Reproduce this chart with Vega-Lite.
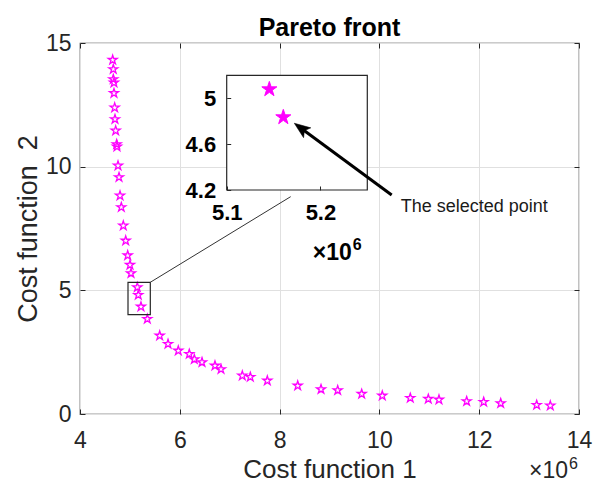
{
  "$schema": "https://vega.github.io/schema/vega-lite/v6.json",
  "width": 499,
  "height": 371,
  "autosize": {"type": "none"},
  "padding": {"left": 80, "top": 43, "right": 19, "bottom": 69},
  "background": "white",
  "config": {
    "font": "Liberation Sans",
    "view": {"stroke": "#333333", "strokeWidth": 1.2},
    "axis": {
      "labelFont": "Liberation Sans",
      "titleFont": "Liberation Sans",
      "labelColor": "#262626",
      "titleColor": "#262626",
      "tickColor": "#262626",
      "domain": false,
      "gridColor": "#e0e0e0",
      "gridWidth": 1,
      "titleFontWeight": "normal",
      "labelOverlap": false,
      "labelFlush": false
    }
  },
  "datasets": {
    "front": [
      {"cost1": 4655000, "cost2": 14.315},
      {"cost1": 4667000, "cost2": 13.939},
      {"cost1": 4667000, "cost2": 13.534},
      {"cost1": 4681000, "cost2": 13.397},
      {"cost1": 4681000, "cost2": 12.969},
      {"cost1": 4695000, "cost2": 12.386},
      {"cost1": 4701000, "cost2": 11.917},
      {"cost1": 4715000, "cost2": 11.456},
      {"cost1": 4735000, "cost2": 10.906},
      {"cost1": 4741000, "cost2": 10.809},
      {"cost1": 4762000, "cost2": 10.04},
      {"cost1": 4782000, "cost2": 9.571},
      {"cost1": 4802000, "cost2": 8.827},
      {"cost1": 4828000, "cost2": 8.358},
      {"cost1": 4868000, "cost2": 7.614},
      {"cost1": 4916000, "cost2": 7.006},
      {"cost1": 4956000, "cost2": 6.41},
      {"cost1": 5002000, "cost2": 6.025},
      {"cost1": 5022000, "cost2": 5.689},
      {"cost1": 5148000, "cost2": 5.122},
      {"cost1": 5168000, "cost2": 4.811},
      {"cost1": 5222000, "cost2": 4.338},
      {"cost1": 5349000, "cost2": 3.841},
      {"cost1": 5597000, "cost2": 3.166},
      {"cost1": 5764000, "cost2": 2.83},
      {"cost1": 5970000, "cost2": 2.559},
      {"cost1": 6190000, "cost2": 2.426},
      {"cost1": 6291000, "cost2": 2.212},
      {"cost1": 6445000, "cost2": 2.09},
      {"cost1": 6705000, "cost2": 1.953},
      {"cost1": 6826000, "cost2": 1.808},
      {"cost1": 7253000, "cost2": 1.549},
      {"cost1": 7413000, "cost2": 1.496},
      {"cost1": 7754000, "cost2": 1.346},
      {"cost1": 8363000, "cost2": 1.144},
      {"cost1": 8830000, "cost2": 0.999},
      {"cost1": 9164000, "cost2": 0.958},
      {"cost1": 9645000, "cost2": 0.809},
      {"cost1": 10058000, "cost2": 0.74},
      {"cost1": 10619000, "cost2": 0.647},
      {"cost1": 10980000, "cost2": 0.607},
      {"cost1": 11194000, "cost2": 0.578},
      {"cost1": 11749000, "cost2": 0.514},
      {"cost1": 12090000, "cost2": 0.485},
      {"cost1": 12431000, "cost2": 0.433},
      {"cost1": 13152000, "cost2": 0.364},
      {"cost1": 13425000, "cost2": 0.336}
    ],
    "inset": [
      {"cost1": 5145500, "cost2": 5.078},
      {"cost1": 5160400, "cost2": 4.834}
    ]
  },
  "layer": [
    {
      "layer": [
        {
          "data": {"name": "front"},
          "mark": {
            "type": "point",
            "shape": "M0,-1L0.2245,-0.309L0.9511,-0.309L0.3633,0.118L0.5878,0.809L0,0.382L-0.5878,0.809L-0.3633,0.118L-0.9511,-0.309L-0.2245,-0.309Z",
            "size": 90,
            "filled": false,
            "stroke": "#ff00ff",
            "strokeWidth": 1.3,
            "opacity": 1
          },
          "encoding": {
            "x": {
              "field": "cost1",
              "type": "quantitative",
              "scale": {"domain": [4000000, 14000000], "nice": false, "zero": false},
              "axis": {
                "orient": "bottom",
                "values": [4000000, 6000000, 8000000, 10000000, 12000000, 14000000],
                "labelExpr": "datum.value / 1000000",
                "title": "Cost function 1",
                "grid": true,
                "tickSize": -5,
                "labelFontSize": 23,
                "labelPadding": 20,
                "titleFontSize": 26,
                "titlePadding": 4
              }
            },
            "y": {
              "field": "cost2",
              "type": "quantitative",
              "scale": {"domain": [0, 15], "nice": false, "zero": false},
              "axis": {
                "orient": "left",
                "values": [0, 5, 10, 15],
                "title": "Cost function\u00a0 2",
                "grid": true,
                "tickSize": -5,
                "labelFontSize": 23,
                "labelPadding": 14,
                "titleFontSize": 27,
                "titlePadding": 3
              }
            }
          }
        },
        {
          "data": {"values": [{"cost1": 4962000, "cost1_end": 5409000, "cost2": 4.015, "cost2_end": 5.325}]},
          "mark": {"type": "rect", "filled": false, "stroke": "#262626", "strokeWidth": 1.2},
          "encoding": {
            "x": {"field": "cost1", "type": "quantitative"},
            "x2": {"field": "cost1_end"},
            "y": {"field": "cost2", "type": "quantitative"},
            "y2": {"field": "cost2_end"}
          }
        }
      ]
    },
    {
      "layer": [
        {
          "data": {"values": [{"cost1": 5100000, "cost1_end": 5250000, "cost2": 4.2, "cost2_end": 5.2}]},
          "mark": {"type": "rect", "fill": "white", "stroke": "#262626", "strokeWidth": 1.2},
          "encoding": {
            "x": {
              "field": "cost1",
              "type": "quantitative",
              "scale": {"domain": [5100000, 5250000], "range": [146.7, 287.3], "nice": false, "zero": false},
              "axis": {
                "orient": "bottom",
                "offset": -224,
                "values": [5100000, 5200000],
                "labelExpr": "datum.value / 1000000",
                "title": null,
                "grid": false,
                "tickSize": -4,
                "labelFontSize": 22,
                "labelFontWeight": "bold",
                "labelColor": "#000000",
                "labelPadding": 16,
                "zindex": 1
              }
            },
            "x2": {"field": "cost1_end"},
            "y": {
              "field": "cost2",
              "type": "quantitative",
              "scale": {"domain": [4.2, 5.2], "range": [147, 32.3], "nice": false, "zero": false},
              "axis": {
                "orient": "left",
                "offset": -146.7,
                "values": [4.2, 4.6, 5],
                "format": ".1~f",
                "title": null,
                "grid": false,
                "tickSize": -4,
                "labelFontSize": 22,
                "labelFontWeight": "bold",
                "labelColor": "#000000",
                "labelPadding": 15,
                "zindex": 1
              }
            },
            "y2": {"field": "cost2_end"}
          }
        },
        {
          "data": {"name": "inset"},
          "mark": {
            "type": "point",
            "shape": "M0,-1L0.2245,-0.309L0.9511,-0.309L0.3633,0.118L0.5878,0.809L0,0.382L-0.5878,0.809L-0.3633,0.118L-0.9511,-0.309L-0.2245,-0.309Z",
            "size": 250,
            "filled": true,
            "fill": "#ff00ff",
            "stroke": "#ff00ff",
            "strokeWidth": 1,
            "opacity": 1
          },
          "encoding": {
            "x": {"field": "cost1", "type": "quantitative"},
            "y": {"field": "cost2", "type": "quantitative"}
          }
        },
        {
          "data": {"values": [{"cost1": 5233400, "cost2": 3.59, "label": "×10"}]},
          "mark": {"type": "text", "align": "right", "baseline": "alphabetic", "fontSize": 23, "fontWeight": "bold", "color": "#000000"},
          "encoding": {
            "x": {"field": "cost1", "type": "quantitative"},
            "y": {"field": "cost2", "type": "quantitative"},
            "text": {"field": "label"}
          }
        },
        {
          "data": {"values": [{"cost1": 5234400, "cost2": 3.681, "label": "6"}]},
          "mark": {"type": "text", "align": "left", "baseline": "alphabetic", "fontSize": 16, "fontWeight": "bold", "color": "#000000"},
          "encoding": {
            "x": {"field": "cost1", "type": "quantitative"},
            "y": {"field": "cost2", "type": "quantitative"},
            "text": {"field": "label"}
          }
        }
      ]
    },
    {
      "layer": [
        {
          "data": {"values": [{"cost1": 5409000, "cost2": 5.325}, {"cost1": 8222000, "cost2": 8.787}]},
          "mark": {"type": "line", "stroke": "#333333", "strokeWidth": 1},
          "encoding": {
            "x": {
              "field": "cost1",
              "type": "quantitative",
              "scale": {"domain": [4000000, 14000000], "nice": false, "zero": false},
              "axis": {
                "orient": "top",
                "values": [4000000, 6000000, 8000000, 10000000, 12000000, 14000000],
                "labels": false,
                "title": null,
                "grid": false,
                "tickSize": -5
              }
            },
            "y": {
              "field": "cost2",
              "type": "quantitative",
              "scale": {"domain": [0, 15], "nice": false, "zero": false},
              "axis": {
                "orient": "right",
                "values": [0, 5, 10, 15],
                "labels": false,
                "title": null,
                "grid": false,
                "tickSize": -5
              }
            }
          }
        },
        {
          "data": {"values": [{"cost1": 10246000, "cost2": 8.856}, {"cost1": 8423000, "cost2": 11.565}]},
          "mark": {"type": "line", "stroke": "#000000", "strokeWidth": 3},
          "encoding": {
            "x": {"field": "cost1", "type": "quantitative"},
            "y": {"field": "cost2", "type": "quantitative"}
          }
        },
        {
          "data": {"values": [{"cost1": 8295000, "cost2": 11.755}]},
          "mark": {
            "type": "point",
            "shape": "M0,0L0.38,1L0,0.78L-0.38,1Z",
            "size": 1024,
            "angle": 306.4,
            "filled": true,
            "fill": "#000000",
            "stroke": "#000000",
            "strokeWidth": 0.5,
            "opacity": 1
          },
          "encoding": {
            "x": {"field": "cost1", "type": "quantitative"},
            "y": {"field": "cost2", "type": "quantitative"}
          }
        },
        {
          "data": {"values": [{"cost1": 10427000, "cost2": 8.358, "label": "The selected point"}]},
          "mark": {"type": "text", "align": "left", "baseline": "middle", "fontSize": 18, "color": "#1a1a1a"},
          "encoding": {
            "x": {"field": "cost1", "type": "quantitative"},
            "y": {"field": "cost2", "type": "quantitative"},
            "text": {"field": "label"}
          }
        },
        {
          "data": {"values": [{"cost1": 9000000, "cost2": 15.285, "label": "Pareto front"}]},
          "mark": {"type": "text", "align": "center", "baseline": "alphabetic", "fontSize": 25, "fontWeight": "bold", "color": "#000000"},
          "encoding": {
            "x": {"field": "cost1", "type": "quantitative"},
            "y": {"field": "cost2", "type": "quantitative"},
            "text": {"field": "label"}
          }
        },
        {
          "data": {"values": [{"cost1": 13780000, "cost2": -2.588, "label": "×10"}]},
          "mark": {"type": "text", "align": "right", "baseline": "alphabetic", "fontSize": 23, "color": "#262626"},
          "encoding": {
            "x": {"field": "cost1", "type": "quantitative"},
            "y": {"field": "cost2", "type": "quantitative"},
            "text": {"field": "label"}
          }
        },
        {
          "data": {"values": [{"cost1": 13800000, "cost2": -2.224, "label": "6"}]},
          "mark": {"type": "text", "align": "left", "baseline": "alphabetic", "fontSize": 16, "color": "#262626"},
          "encoding": {
            "x": {"field": "cost1", "type": "quantitative"},
            "y": {"field": "cost2", "type": "quantitative"},
            "text": {"field": "label"}
          }
        }
      ]
    }
  ],
  "resolve": {
    "scale": {"x": "independent", "y": "independent"},
    "axis": {"x": "independent", "y": "independent"}
  }
}
